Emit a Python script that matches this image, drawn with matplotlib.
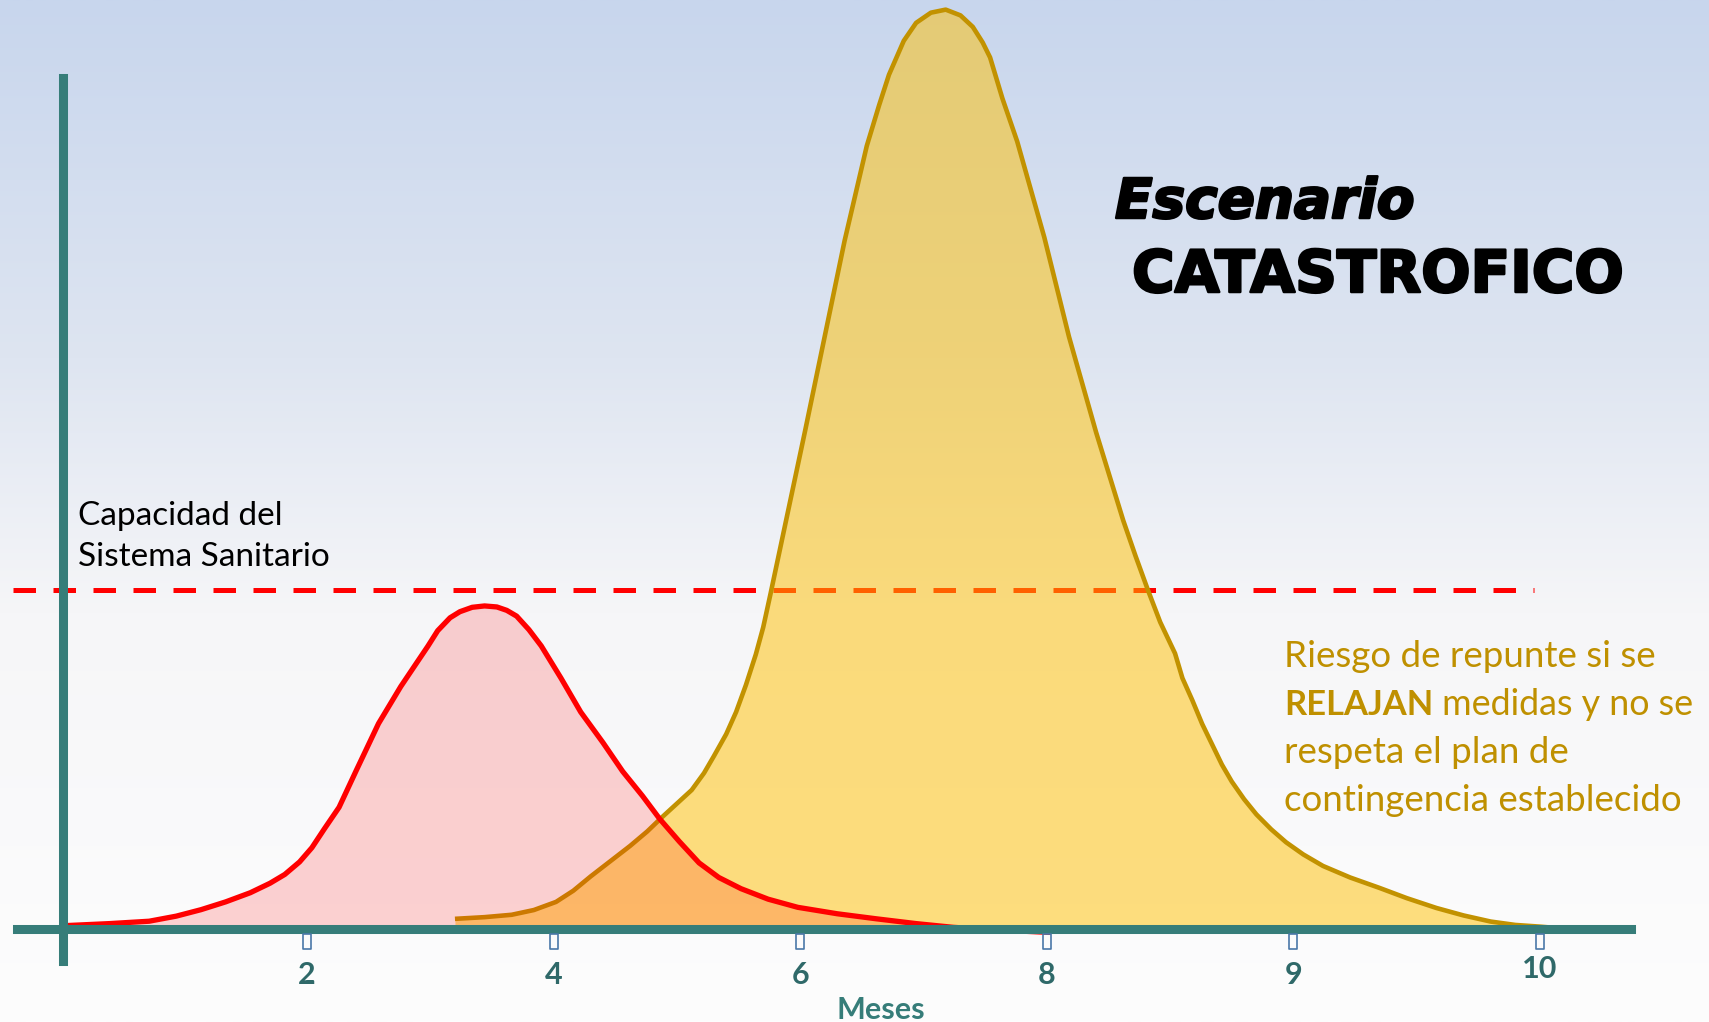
import numpy as np
import matplotlib
matplotlib.use("Agg")
import matplotlib.pyplot as plt
import matplotlib.patheffects as pe
from matplotlib.path import Path

# ---------------- data ----------------
tick_labels = ["2", "4", "6", "8", "9", "10"]
tick_pos = [1, 2, 3, 4, 5, 6]

capacidad = 100

red_x = [0.02, 0.20, 0.36, 0.47, 0.57, 0.67, 0.77, 0.85, 0.91, 0.97, 1.02, 1.07,
         1.13, 1.20, 1.29, 1.38, 1.44, 1.49, 1.53, 1.58, 1.62, 1.67, 1.72, 1.77,
         1.81, 1.85, 1.90, 1.95, 2.03, 2.11, 2.20, 2.28, 2.36, 2.43, 2.51, 2.59,
         2.67, 2.76, 2.87, 2.99, 3.15, 3.31, 3.47, 3.62, 3.80, 4.01]
red_y = [1.0, 1.6, 2.3, 3.8, 5.7, 8.0, 10.7, 13.5, 16.1, 19.8, 24.0, 29.5,
         35.9, 46.8, 60.6, 71.5, 78.0, 83.4, 88.0, 91.8, 93.6, 94.9, 95.3, 95.0,
         94.0, 92.3, 88.3, 83.5, 74.0, 64.0, 55.0, 46.5, 39.3, 32.5, 25.8, 19.5,
         15.2, 11.9, 8.8, 6.4, 4.5, 3.0, 1.6, 0.5, -0.3, -1.0]

yellow_x = [1.60, 1.72, 1.83, 1.92, 2.01, 2.08, 2.15, 2.23, 2.31, 2.38, 2.44, 2.50,
            2.56, 2.61, 2.65, 2.70, 2.74, 2.78, 2.82, 2.85, 2.88, 2.95, 3.02, 3.10,
            3.18, 3.27, 3.32, 3.36, 3.42, 3.47, 3.53, 3.59, 3.65, 3.70, 3.74, 3.77,
            3.82, 3.88, 3.99, 4.09, 4.20, 4.31, 4.36, 4.41, 4.46, 4.52, 4.55, 4.59,
            4.63, 4.67, 4.71, 4.75, 4.80, 4.85, 4.91, 4.97, 5.04, 5.12, 5.23, 5.35,
            5.46, 5.58, 5.69, 5.80, 5.90, 6.00, 6.10, 6.20]
yellow_y = [3.0, 3.5, 4.2, 5.6, 8.0, 11.3, 15.5, 20.0, 24.5, 28.8, 33.0, 37.0,
            41.0, 46.0, 51.0, 57.5, 64.0, 72.0, 81.0, 89.0, 99.0, 123.0, 147.0, 175.0,
            203.0, 231.0, 243.0, 252.0, 262.0, 267.3, 270.3, 271.2, 269.5, 266.1, 261.5, 257.1,
            245.0, 232.3, 204.0, 174.7, 146.5, 120.5, 110.0, 100.0, 90.5, 81.3, 74.0, 67.5,
            60.5, 54.5, 48.5, 43.5, 38.3, 33.8, 29.4, 25.6, 22.0, 18.6, 15.2, 12.1,
            9.1, 6.2, 4.0, 2.2, 1.2, 0.7, 0.1, -0.5]

titulo = ["Escenario", "CATASTROFICO"]
nota_cap = ["Capacidad del", "Sistema Sanitario"]
nota = ["Riesgo de repunte si se", "RELAJAN", " medidas y no se",
        "respeta el plan de", "contingencia establecido"]
xlabel = "Meses"

# ---------------- figure ----------------
W, H = 1709, 1022
fig = plt.figure(figsize=(W / 100, H / 100), dpi=100)
ax = fig.add_axes([0, 0, 1, 1])
x0, x1 = -0.2449, 6.6853
y0, y1 = -27.43, 274.04
ax.set_xlim(x0, x1)
ax.set_ylim(y0, y1)

# background gradient
stops = np.array([0.0, 0.35, 0.6, 1.0])
cols = np.array([[200, 214, 237], [222, 229, 241], [246, 246, 248], [253, 253, 253]]) / 255
t = np.linspace(0, 1, 512)
grad = np.stack([np.interp(t, stops, cols[:, i]) for i in range(3)], axis=-1)[:, None, :]
ax.imshow(grad, extent=[x0, x1, y0, y1], aspect="auto", origin="upper", zorder=0)

# capacity line
ax.hlines(capacidad, -0.192, 5.976, colors="#ff0000", linewidth=3.6,
          linestyles=(0, (4.5, 3.5)), zorder=1)

# yellow curve
ax.fill_between(yellow_x, yellow_y, 0, color="#ffc000", alpha=0.5, linewidth=0, zorder=2)
ax.plot(yellow_x, yellow_y, color="#c29200", linewidth=3.3, zorder=3,
        solid_capstyle="butt", solid_joinstyle="round")

# red curve
ax.fill_between(red_x, red_y, 0, color="#ff0000", alpha=0.17, linewidth=0, zorder=4)
ax.plot(red_x, red_y, color="#ff0000", linewidth=3.8, zorder=5,
        solid_capstyle="round", solid_joinstyle="round")

# spines
teal = "#367d79"
for s in ["top", "right"]:
    ax.spines[s].set_visible(False)
ax.spines["left"].set_position(("data", 0.0105))
ax.spines["left"].set_bounds(-9.3, 250.9)
ax.spines["bottom"].set_position(("data", 0))
ax.spines["bottom"].set_bounds(-0.174, 6.371)
for s in ["left", "bottom"]:
    ax.spines[s].set_color(teal)
    ax.spines[s].set_linewidth(6.5)
    ax.spines[s].set_zorder(10)

# ticks
ax.set_yticks([])
ax.set_xticks(tick_pos, tick_labels)
ax.tick_params(axis="x", length=0, pad=23, labelsize=22, labelcolor="#2f6969")
for lab in ax.get_xticklabels():
    lab.set_fontfamily("Lato")
    lab.set_fontweight("bold")
ax.xaxis.get_major_ticks()[-1].set_pad(18.5)

rect = Path([(-4.2, -20), (4.2, -20), (4.2, -5), (-4.2, -5), (-4.2, -20)],
            [Path.MOVETO, Path.LINETO, Path.LINETO, Path.LINETO, Path.CLOSEPOLY])
ax.plot(tick_pos, [0] * len(tick_pos), linestyle="none", marker=rect, markersize=28.8,
        markerfacecolor="none", markeredgecolor="#4a78a8", markeredgewidth=1.2,
        zorder=11, clip_on=False)

ax.set_xlabel(xlabel, fontsize=22, fontweight="bold", color="#367d79", fontfamily="Lato")
ax.xaxis.set_label_coords(881 / W, 1 - 1019 / H)
ax.xaxis.label.set_va("baseline")

# titles
heavy = [pe.withStroke(linewidth=1.8, foreground="black")]
ax.text(1115 / W, 1 - 218 / H, titulo[0], transform=ax.transAxes, fontsize=39.5,
        fontweight="bold", fontstyle="oblique", family="DejaVu Sans", color="black",
        ha="left", va="baseline", path_effects=heavy)
ax.text(1132 / W, 1 - 292 / H, titulo[1], transform=ax.transAxes, fontsize=41.8,
        fontweight="bold", family="DejaVu Sans", color="black", ha="left", va="baseline",
        path_effects=heavy)

# capacity label
ax.text(78 / W, 1 - 525 / H, nota_cap[0], transform=ax.transAxes,
        fontsize=24, family="Lato", color="black", ha="left", va="baseline")
ax.text(78 / W, 1 - 566 / H, nota_cap[1], transform=ax.transAxes,
        fontsize=24, family="Lato", color="black", ha="left", va="baseline")

# note
gold = "#bf9000"
fs = 26.5
ax.text(1284 / W, 1 - 667 / H, nota[0], transform=ax.transAxes, fontsize=fs,
        family="Lato", color=gold, ha="left", va="baseline")
b = ax.text(1284 / W, 1 - 715 / H, nota[1], transform=ax.transAxes, fontsize=24.8,
            family="Lato", fontweight="bold", color=gold, ha="left", va="baseline")
ax.annotate(nota[2], xy=(1, 0), xycoords=b, fontsize=25.8, family="Lato", color=gold,
            ha="left", va="bottom")
ax.text(1284 / W, 1 - 763 / H, nota[3], transform=ax.transAxes, fontsize=fs,
        family="Lato", color=gold, ha="left", va="baseline")
ax.text(1284 / W, 1 - 811 / H, nota[4], transform=ax.transAxes, fontsize=fs,
        family="Lato", color=gold, ha="left", va="baseline")

fig.savefig("out.png", dpi=100)
